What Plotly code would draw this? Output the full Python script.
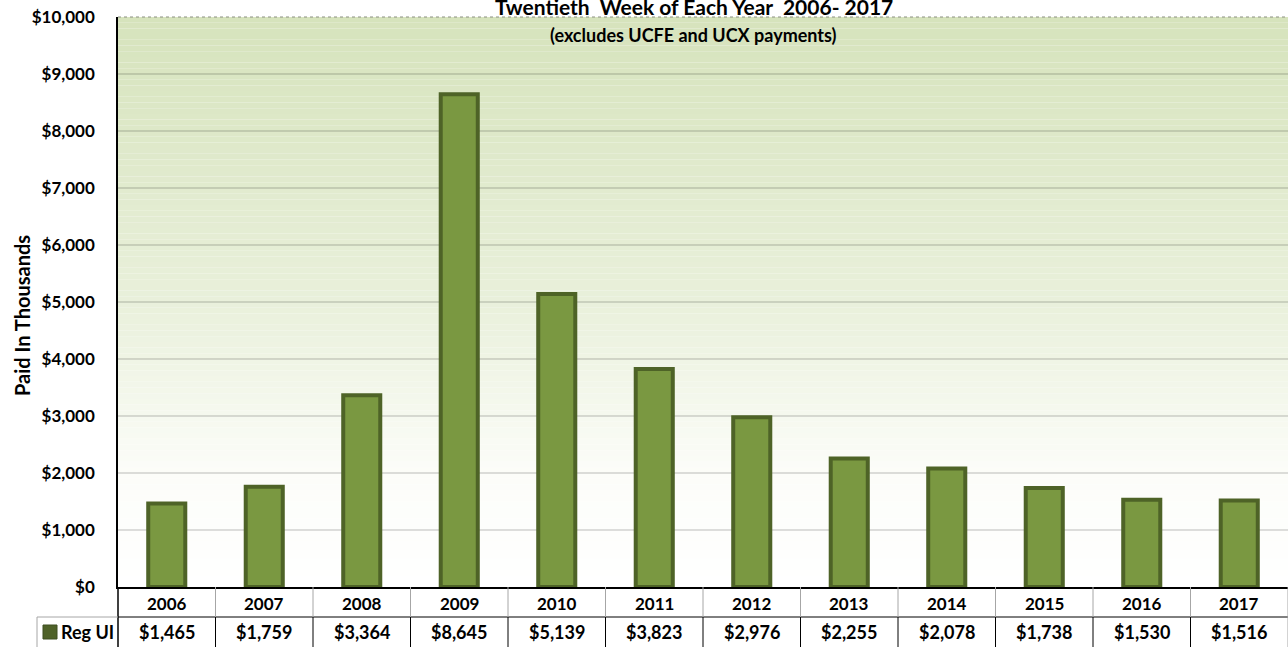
import plotly.graph_objects as go

# Regular UI benefits paid, twentieth week of each year (thousands of dollars)
years = ["2006", "2007", "2008", "2009", "2010", "2011",
         "2012", "2013", "2014", "2015", "2016", "2017"]
reg_ui = [1465, 1759, 3364, 8645, 5139, 3823, 2976, 2255, 2078, 1738, 1530, 1516]

series_name = "Reg UI"
title_text = "Twentieth  Week of Each Year  2006- 2017"
subtitle_text = "(excludes UCFE and UCX payments)"
y_title = "Paid In Thousands"
y_ticks = [0, 1000, 2000, 3000, 4000, 5000, 6000, 7000, 8000, 9000, 10000]
y_tick_labels = ["${:,}".format(v) for v in y_ticks]

W, H = 1288, 647
ML, MR, MT, MB = 118, 0, 17, 60
PW, PH = W - ML - MR, H - MT - MB
FONT = "Lato"
BAR_FILL = "#7a9841"
BAR_EDGE = "#4e6327"


def px_x(px):
    """Horizontal pixel position -> paper coordinate."""
    return (px - ML) / PW


def px_y(px):
    """Vertical pixel position -> paper coordinate."""
    return (H - MB - px) / PH


def lerp_color(stops, t):
    for (t0, c0), (t1, c1) in zip(stops[:-1], stops[1:]):
        if t0 <= t <= t1:
            f = (t - t0) / (t1 - t0) if t1 > t0 else 0
            a = [int(c0[i:i + 2], 16) for i in (1, 3, 5)]
            b = [int(c1[i:i + 2], 16) for i in (1, 3, 5)]
            return "rgb({},{},{})".format(*[round(a[k] + (b[k] - a[k]) * f) for k in range(3)])
    return stops[-1][1]


def bold(size):
    return dict(family=FONT, size=size, color="#000000", weight=700)


x_idx = list(range(len(years)))

fig = go.Figure()
fig.add_trace(go.Bar(
    x=x_idx, y=reg_ui, width=0.38, name=series_name,
    marker=dict(color=BAR_FILL, line=dict(color=BAR_EDGE, width=4)),
    showlegend=False, hoverinfo="x+y",
))

shapes = []
# vertical green-to-white gradient behind the plot area
grad_stops = [(0.0, "#ffffff"), (0.2, "#fcfdf9"), (0.5, "#e9f0db"), (1.0, "#d6e3bc")]
n_strips = 100
for i in range(n_strips):
    t = (i + 0.5) / n_strips
    shapes.append(dict(
        type="rect", xref="paper", yref="y", layer="below",
        x0=0, x1=1, y0=i * 10000 / n_strips, y1=(i + 1) * 10000 / n_strips,
        fillcolor=lerp_color(grad_stops, t), line=dict(width=0),
    ))

# dotted top border of plot area
shapes.append(dict(type="line", xref="paper", yref="paper", x0=0, x1=1, y0=1, y1=1,
                   line=dict(color="#8a8f80", width=1, dash="dot")))

# data table grid below the axis
row1 = px_y(617)
row2 = px_y(647)
shapes.append(dict(type="line", xref="paper", yref="paper", x0=0, x1=1, y0=row1, y1=row1,
                   line=dict(color="#000000", width=1)))
shapes.append(dict(type="line", xref="paper", yref="paper", x0=0, x1=0, y0=0, y1=row2,
                   line=dict(color="#000000", width=1.5)))
for k in range(len(years) - 1):
    xb = k + 0.5
    shapes.append(dict(type="line", xref="x", yref="paper", x0=xb, x1=xb, y0=0, y1=row1,
                       line=dict(color="#a6a6a6", width=1)))
    shapes.append(dict(type="line", xref="x", yref="paper", x0=xb, x1=xb, y0=row1, y1=row2,
                       line=dict(color="#000000", width=1)))
shapes.append(dict(type="line", xref="paper", yref="paper", x0=1, x1=1, y0=0, y1=row2,
                   line=dict(color="#a6a6a6", width=1)))
# legend key cell
shapes.append(dict(type="line", xref="paper", yref="paper", x0=px_x(37), x1=0, y0=row1, y1=row1,
                   line=dict(color="#a6a6a6", width=1)))
shapes.append(dict(type="line", xref="paper", yref="paper", x0=px_x(37), x1=px_x(37), y0=row1, y1=row2,
                   line=dict(color="#a6a6a6", width=1)))
shapes.append(dict(type="rect", xref="paper", yref="paper",
                   x0=px_x(43), x1=px_x(57), y0=px_y(639), y1=px_y(625),
                   fillcolor="#4f6228", line=dict(color="#3f4f20", width=1)))

annotations = []
for i, (yr, v) in enumerate(zip(years, reg_ui)):
    annotations.append(dict(x=i, y=0, xref="x", yref="paper", text=yr, showarrow=False,
                            yanchor="middle", yshift=-16, font=bold(17)))
    annotations.append(dict(x=i, y=0, xref="x", yref="paper", text="${:,}".format(v),
                            showarrow=False, yanchor="middle", yshift=-45, font=bold(18)))
annotations.append(dict(x=px_x(59), y=px_y(632), xref="paper", yref="paper", text=series_name,
                        showarrow=False, xanchor="left", yanchor="middle", font=bold(18)))
annotations.append(dict(x=px_x(694), y=px_y(21), xref="paper", yref="paper", text=title_text,
                        showarrow=False, xanchor="center", yanchor="bottom", font=bold(21)))
annotations.append(dict(x=px_x(693), y=px_y(35), xref="paper", yref="paper", text=subtitle_text,
                        showarrow=False, xanchor="center", yanchor="middle", font=bold(18)))
annotations.append(dict(x=px_x(22), y=px_y(316), xref="paper", yref="paper", text=y_title,
                        showarrow=False, textangle=-90, xanchor="center", yanchor="middle",
                        font=bold(20)))

fig.update_layout(
    width=W, height=H,
    margin=dict(l=ML, r=MR, t=MT, b=MB, pad=0),
    paper_bgcolor="#ffffff", plot_bgcolor="rgba(0,0,0,0)",
    shapes=shapes, annotations=annotations,
    xaxis=dict(range=[-0.5, len(years) - 0.5], showticklabels=False, showgrid=False,
               zeroline=False, showline=True, linecolor="#000000", linewidth=1.5,
               ticks="", fixedrange=True),
    yaxis=dict(range=[0, 10000], tickmode="array", tickvals=y_ticks, ticktext=y_tick_labels,
               showgrid=True, gridcolor="rgba(0,0,0,0.13)", gridwidth=1.5,
               zeroline=False, showline=True, linecolor="#000000", linewidth=1.5,
               ticks="", ticklabelstandoff=18, tickfont=bold(17)),
)

fig.write_html("out.html")
